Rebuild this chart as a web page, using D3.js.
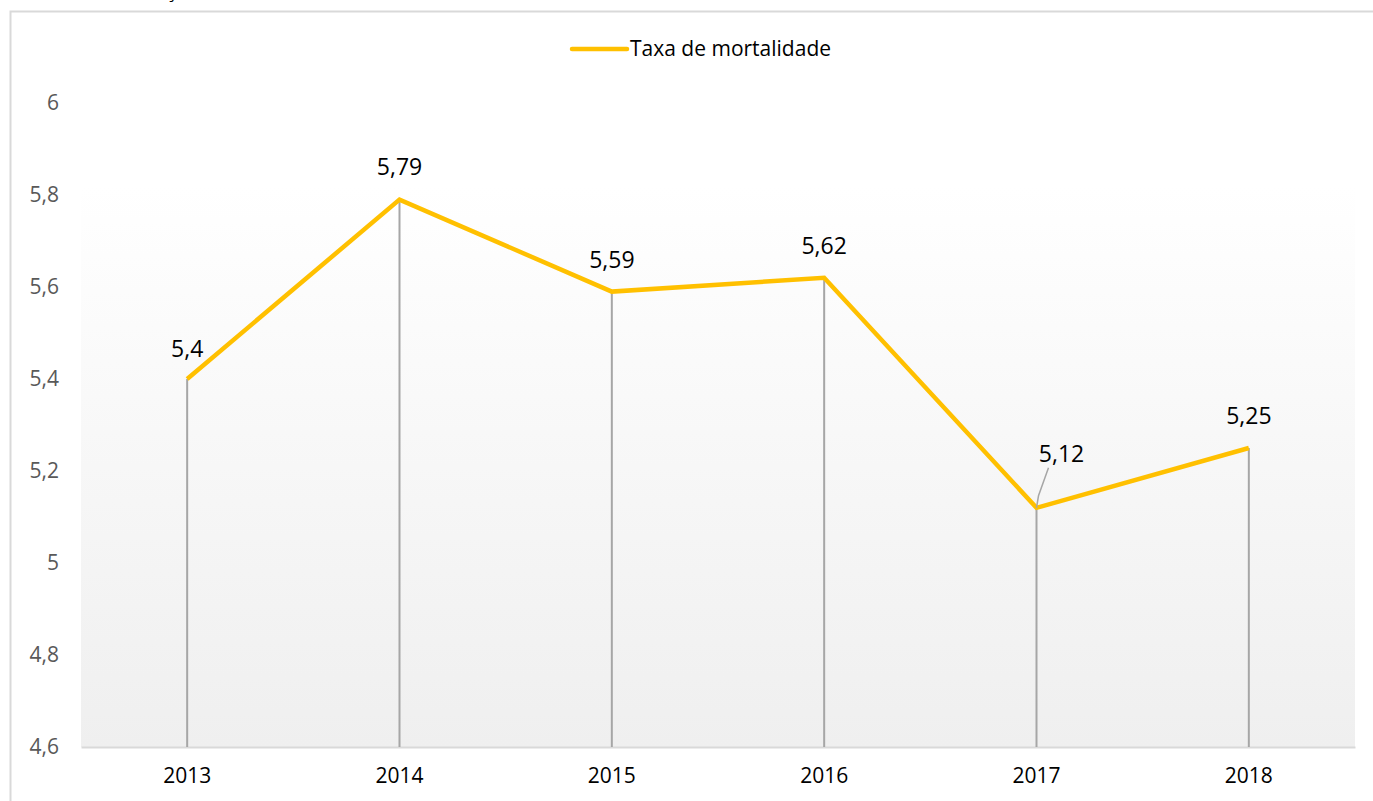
<!DOCTYPE html>
<html>
<head>
<meta charset="utf-8">
<script src="https://cdn.jsdelivr.net/npm/d3@7"></script>
<style>
  body { margin: 0; background: #fff; }
  svg { display: block; font-family: "Open Sans", sans-serif; }
</style>
</head>
<body>
<svg id="chart" width="1373" height="801"></svg>
<script>
// data
var years = ["2013", "2014", "2015", "2016", "2017", "2018"];
var taxa = [5.4, 5.79, 5.59, 5.62, 5.12, 5.25];
var yTicks = [4.6, 4.8, 5, 5.2, 5.4, 5.6, 5.8, 6];
var seriesName = "Taxa de mortalidade";

var svg = d3.select("#chart");
var margin = {left: 81, right: 18, top: 103, bottom: 54};
var W = 1373, H = 801;

var x = d3.scaleBand().domain(years).range([margin.left, W - margin.right]);
var y = d3.scaleLinear().domain([4.6, 6]).range([H - margin.bottom, margin.top]);

var fmt = function(v){ return String(v).replace(".", ","); };

// gradient for plot area
var defs = svg.append("defs");
var grad = defs.append("linearGradient")
    .attr("id", "plotGrad")
    .attr("x1", 0).attr("y1", 0).attr("x2", 0).attr("y2", 1);
grad.append("stop").attr("offset", "0%").attr("stop-color", "#ffffff");
grad.append("stop").attr("offset", "100%").attr("stop-color", "#efefef");

// chart frame (cut off at right and bottom)
svg.append("path")
    .attr("d", "M10.5," + H + "V11.5H" + W)
    .style("fill", "none")
    .style("stroke", "#d9d9d9")
    .style("stroke-width", 2);

// fragment of the title, cut off above the picture as in the original
svg.append("text")
    .attr("x", 166).attr("y", -3)
    .style("font-size", "20px")
    .style("fill", "#000")
    .text("ç");

// plot area background
svg.append("rect")
    .attr("x", margin.left)
    .attr("y", y(5.82))
    .attr("width", x.range()[1] - margin.left)
    .attr("height", y(4.6) - y(5.82))
    .style("fill", "url(#plotGrad)");

// y axis labels
var yAxis = d3.axisLeft(y).tickValues(yTicks).tickFormat(fmt).tickSize(0).tickPadding(22);
var gy = svg.append("g").attr("transform", "translate(" + margin.left + ",0)").call(yAxis);
gy.select(".domain").remove();
gy.selectAll("text").style("font-size", "21px").style("fill", "#595959").style("font-family", "Open Sans");

// x axis
var xAxis = d3.axisBottom(x).tickSize(0).tickPadding(21);
var gx = svg.append("g").attr("transform", "translate(0," + y(4.6) + ")").call(xAxis);
gx.select(".domain").style("stroke", "#d9d9d9").style("stroke-width", 2);
gx.selectAll("text").style("font-size", "21px").style("fill", "#000").style("font-family", "Open Sans");

var cx = function(d, i){ return x(years[i]) + x.bandwidth() / 2; };

// drop lines
svg.append("g").selectAll("line")
    .data(taxa).enter().append("line")
    .attr("x1", cx).attr("x2", cx)
    .attr("y1", function(d){ return y(d); })
    .attr("y2", y(4.6))
    .style("stroke", "#a6a6a6")
    .style("stroke-width", 2);

// series line
var line = d3.line().x(cx).y(function(d){ return y(d); });
svg.append("path")
    .datum(taxa)
    .attr("d", line)
    .style("fill", "none")
    .style("stroke", "#ffc000")
    .style("stroke-width", 4.5)
    .style("stroke-linejoin", "miter");

// data labels (2017 moved off the line, with a leader)
var labelOff = [[0, -22], [0, -25], [0, -24], [0, -24], [25, -46], [0, -24]];
svg.append("g").selectAll("text")
    .data(taxa).enter().append("text")
    .attr("x", function(d, i){ return cx(d, i) + labelOff[i][0]; })
    .attr("y", function(d, i){ return y(d) + labelOff[i][1]; })
    .attr("text-anchor", "middle")
    .style("font-size", "23px")
    .style("fill", "#000")
    .text(fmt);

var i17 = years.indexOf("2017");
svg.append("path")
    .attr("d", "M" + (cx(0, i17) + 12) + "," + (y(taxa[i17]) - 40) +
        "L" + (cx(0, i17) + 2) + "," + (y(taxa[i17]) - 12) +
        "L" + cx(0, i17) + "," + y(taxa[i17]))
    .style("fill", "none")
    .style("stroke", "#a6a6a6")
    .style("stroke-width", 1.5);

// legend
var lg = svg.append("g").attr("transform", "translate(572,49)");
lg.append("line").attr("x1", 0).attr("x2", 55).attr("y1", 0).attr("y2", 0)
    .style("stroke", "#ffc000").style("stroke-width", 4.5).style("stroke-linecap", "round");
lg.append("text").attr("x", 58).attr("y", 7)
    .style("font-size", "21px").style("fill", "#000")
    .text(seriesName);
</script>
</body>
</html>
